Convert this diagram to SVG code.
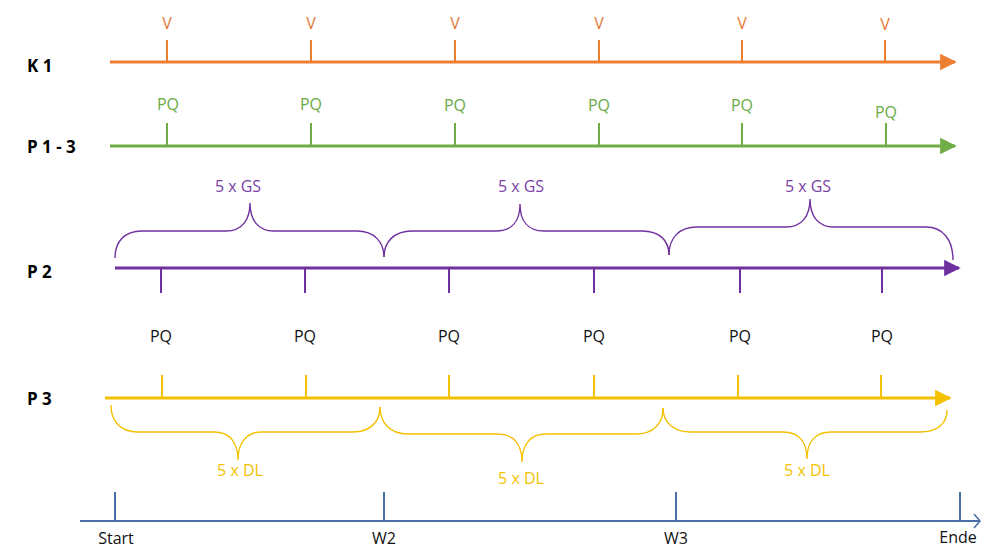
<svg xmlns="http://www.w3.org/2000/svg" width="981" height="549" viewBox="0 0 981 549">
  <style>
    .row { font-family: "Open Sans", "Liberation Sans", sans-serif; font-weight: bold; font-size: 17px; fill: #000; }
    .lbl { font-family: "Open Sans", "Liberation Sans", sans-serif; font-size: 16px; text-anchor: middle; }
    .axis { fill: none; stroke-width: 3; }
    .tick { fill: none; stroke-width: 2; }
    .brace { fill: none; stroke-width: 1.4; }
    .orange { stroke: #ed7d31; }
    .green { stroke: #70ad47; }
    .purple { stroke: #7030a0; }
    .yellow { stroke: #f5c000; }
    .blue { stroke: #4a6fa8; }
  </style>
  <defs>
    <marker id="arrOrange" viewBox="0 0 10 10" refX="9" refY="5" markerWidth="6.5" markerHeight="5.5" markerUnits="strokeWidth" orient="auto">
      <path d="M0,0 L10,5 L0,10 Z" fill="#ed7d31"/>
    </marker>
    <marker id="arrGreen" viewBox="0 0 10 10" refX="9" refY="5" markerWidth="6.5" markerHeight="5.5" markerUnits="strokeWidth" orient="auto">
      <path d="M0,0 L10,5 L0,10 Z" fill="#70ad47"/>
    </marker>
    <marker id="arrPurple" viewBox="0 0 10 10" refX="9" refY="5" markerWidth="6.5" markerHeight="5.5" markerUnits="strokeWidth" orient="auto">
      <path d="M0,0 L10,5 L0,10 Z" fill="#7030a0"/>
    </marker>
    <marker id="arrYellow" viewBox="0 0 10 10" refX="9" refY="5" markerWidth="6.5" markerHeight="5.5" markerUnits="strokeWidth" orient="auto">
      <path d="M0,0 L10,5 L0,10 Z" fill="#f5c000"/>
    </marker>
  </defs>

  <rect width="981" height="549" fill="#ffffff"/>

  <!-- row titles -->
  <g id="titles">
    <text class="row" x="27" y="72">K 1</text>
    <text class="row" x="27" y="153">P 1 - 3</text>
    <text class="row" x="27" y="278">P 2</text>
    <text class="row" x="27" y="405">P 3</text>
  </g>

  <!-- K1 track: visits -->
  <g id="k1">
    <line class="axis orange" x1="110" y1="62" x2="955" y2="62" marker-end="url(#arrOrange)"/>
    <g class="tick orange">
      <line x1="167" y1="40" x2="167" y2="62"/>
      <line x1="311" y1="40" x2="311" y2="62"/>
      <line x1="455" y1="40" x2="455" y2="62"/>
      <line x1="599" y1="40" x2="599" y2="62"/>
      <line x1="742" y1="40" x2="742" y2="62"/>
      <line x1="885" y1="40" x2="885" y2="62"/>
    </g>
    <g class="lbl" fill="#e57a35">
      <text x="167" y="29">V</text>
      <text x="311" y="29">V</text>
      <text x="455" y="29">V</text>
      <text x="599" y="29">V</text>
      <text x="742" y="29">V</text>
      <text x="885" y="30">V</text>
    </g>
  </g>

  <!-- P1-3 track -->
  <g id="p13">
    <line class="axis green" x1="110" y1="146" x2="955" y2="146" marker-end="url(#arrGreen)"/>
    <g class="tick green">
      <line x1="167" y1="123" x2="167" y2="146"/>
      <line x1="311" y1="123" x2="311" y2="146"/>
      <line x1="455" y1="123" x2="455" y2="146"/>
      <line x1="599" y1="123" x2="599" y2="146"/>
      <line x1="742" y1="123" x2="742" y2="146"/>
      <line x1="886" y1="123" x2="886" y2="146"/>
    </g>
    <g class="lbl" fill="#6aab45">
      <text x="168" y="110">PQ</text>
      <text x="311" y="110">PQ</text>
      <text x="455" y="111">PQ</text>
      <text x="599" y="111">PQ</text>
      <text x="742" y="111">PQ</text>
      <text x="886" y="118">PQ</text>
    </g>
  </g>

  <!-- P2 track with GS blocks -->
  <g id="p2">
    <path class="brace purple" d="M115,258 C115,242 124,231 142,231 L226,231 C242,231 250,220 250,203 C250,220 258,231 274,231 L357,231 C374,231 384,242 384,257"/>
    <path class="brace purple" d="M384,257 C384,242 394,231 412,231 L496,231 C512,231 520,221 520,204 C520,221 528,231 544,231 L642,231 C659,231 669,240 669,255"/>
    <path class="brace purple" d="M669,255 C669,238 679,227 697,227 L786,227 C802,227 810,216 810,199 C810,216 818,227 834,227 L926,227 C943,227 953,240 953,260"/>
    <g class="lbl" fill="#7b3fa6">
      <text x="238" y="192">5 x GS</text>
      <text x="521" y="192">5 x GS</text>
      <text x="808" y="192">5 x GS</text>
    </g>
    <line class="axis purple" x1="115" y1="268" x2="959" y2="268" marker-end="url(#arrPurple)"/>
    <g class="tick purple">
      <line x1="161" y1="268" x2="161" y2="293"/>
      <line x1="305" y1="268" x2="305" y2="293"/>
      <line x1="449" y1="268" x2="449" y2="293"/>
      <line x1="594" y1="268" x2="594" y2="293"/>
      <line x1="740" y1="268" x2="740" y2="293"/>
      <line x1="882" y1="268" x2="882" y2="293"/>
    </g>
    <g class="lbl" fill="#111111">
      <text x="161" y="342">PQ</text>
      <text x="305" y="342">PQ</text>
      <text x="449" y="342">PQ</text>
      <text x="594" y="342">PQ</text>
      <text x="740" y="342">PQ</text>
      <text x="882" y="342">PQ</text>
    </g>
  </g>

  <!-- P3 track with DL blocks -->
  <g id="p3">
    <line class="axis yellow" x1="105" y1="398" x2="950" y2="398" marker-end="url(#arrYellow)"/>
    <g class="tick yellow">
      <line x1="162" y1="375" x2="162" y2="398"/>
      <line x1="306" y1="375" x2="306" y2="398"/>
      <line x1="449" y1="375" x2="449" y2="398"/>
      <line x1="594" y1="375" x2="594" y2="398"/>
      <line x1="738" y1="375" x2="738" y2="398"/>
      <line x1="881" y1="375" x2="881" y2="398"/>
    </g>
    <path class="brace yellow" d="M111,405 C111,421 120,432 138,432 L214,432 C230,432 238,443 238,460 C238,443 246,432 262,432 L353,432 C370,432 380,422 380,407"/>
    <path class="brace yellow" d="M380,407 C380,423 390,434 408,434 L498,434 C514,434 522,445 522,462 C522,445 530,434 546,434 L636,434 C653,434 663,424 663,408"/>
    <path class="brace yellow" d="M663,408 C663,422 673,432 691,432 L783,432 C799,432 807,442 807,459 C807,442 815,432 831,432 L920,432 C937,432 947,424 947,410"/>
    <g class="lbl" fill="#f2c200">
      <text x="240" y="476">5 x DL</text>
      <text x="521" y="484">5 x DL</text>
      <text x="807" y="476">5 x DL</text>
    </g>
  </g>

  <!-- timeline with milestones -->
  <g id="timeline">
    <line class="blue" stroke-width="2" x1="80" y1="521" x2="979" y2="521"/>
    <path class="blue" stroke-width="1.6" fill="none" d="M974,514 L980,521 L974,528"/>
    <g class="tick blue">
      <line x1="115" y1="492" x2="115" y2="521"/>
      <line x1="384" y1="492" x2="384" y2="521"/>
      <line x1="676" y1="492" x2="676" y2="521"/>
      <line x1="960" y1="492" x2="960" y2="521"/>
    </g>
    <g class="lbl" fill="#111111">
      <text x="116" y="544">Start</text>
      <text x="384" y="544">W2</text>
      <text x="676" y="544">W3</text>
      <text x="958" y="543">Ende</text>
    </g>
  </g>
</svg>
